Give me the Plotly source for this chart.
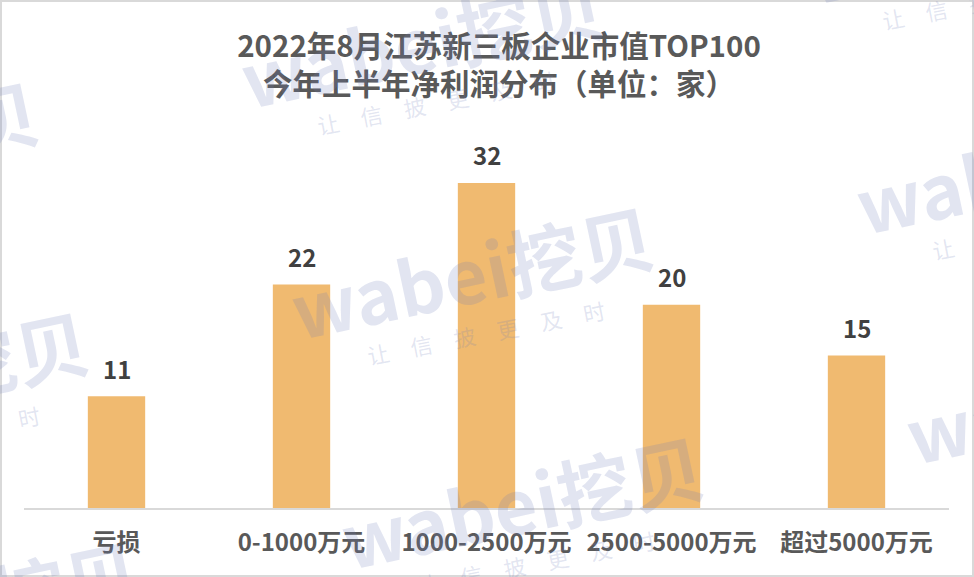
import plotly.graph_objects as go

categories = ["亏损", "0-1000万元", "1000-2500万元", "2500-5000万元", "超过5000万元"]
values = [11, 22, 32, 20, 15]
title_lines = ["2022年8月江苏新三板企业市值TOP100", "今年上半年净利润分布（单位：家）"]
watermark_main = "wabei挖贝"
watermark_sub = "让　信　披　更　及　时"

W, H = 974, 577
L, R, T, B = 24, 25, 130, 69
PW, PH = W - L - R, H - T - B
FONT = "Noto Sans CJK SC, Microsoft YaHei, sans-serif"


def px(x, y):
    return (x - L) / PW, (H - B - y) / PH


fig = go.Figure()
fig.add_trace(go.Bar(
    x=categories, y=values,
    marker=dict(color="#F0BA70", line=dict(width=0)),
    hoverinfo="skip",
))

annotations = []
for c, v in zip(categories, values):
    annotations.append(dict(
        x=c, y=v, xref="x", yref="y", text=f"<b>{v}</b>", showarrow=False,
        yanchor="middle", yshift=28,
        font=dict(family=FONT, size=24, color="#404040"),
    ))

# watermark tiles (text centre positions in pixels)
wm_centres = [(472, 270), (522, 500), (422, 40), (-93, 375), (-143, 145),
              (1037, 165), (1087, 395), (987, -65), (-43, 605)]
for cx, cy in wm_centres:
    xp, yp = px(cx, cy)
    annotations.append(dict(
        x=xp, y=yp, xref="paper", yref="paper", text="<b>" + watermark_main + "</b>",
        showarrow=False, textangle=-12, xanchor="center", yanchor="middle",
        font=dict(family=FONT, size=74, color="rgba(110,125,185,0.2)"),
    ))
    sx, sy = px(cx + 14, cy + 62)
    annotations.append(dict(
        x=sx, y=sy, xref="paper", yref="paper", text=watermark_sub,
        showarrow=False, textangle=-11, xanchor="center", yanchor="middle",
        font=dict(family=FONT, size=22, color="rgba(110,125,185,0.2)"),
    ))

x0, y0 = px(1, 1)
x1, y1 = px(W - 1, H - 1)
fig.update_layout(
    width=W, height=H,
    margin=dict(l=L, r=R, t=T, b=B),
    paper_bgcolor="white", plot_bgcolor="white",
    showlegend=False,
    bargap=0.69,
    title=dict(
        text="<b>" + title_lines[0] + "<br>" + title_lines[1] + "</b>",
        x=499 / W, xanchor="center", y=1 - 57 / H, yanchor="top",
        font=dict(family=FONT, size=29.5, color="#595959"),
    ),
    xaxis=dict(
        showline=True, linecolor="#D9D9D9", linewidth=2, showgrid=False,
        ticks="", tickfont=dict(family=FONT, size=24, color="#595959"),
        ticklabelstandoff=12,
        tickmode="array", tickvals=categories,
        ticktext=["<b>" + c + "</b>" for c in categories],
    ),
    yaxis=dict(range=[0, PH / 10.16], visible=False, showgrid=False),
    annotations=annotations,
    shapes=[dict(type="rect", xref="paper", yref="paper", x0=x0, y0=y0, x1=x1, y1=y1,
                 line=dict(color="#D9D9D9", width=2), layer="above")],
)

fig.write_html("out.html", config={"displayModeBar": False},
               post_script="document.body.style.margin='0px';document.body.style.overflow='hidden';")
